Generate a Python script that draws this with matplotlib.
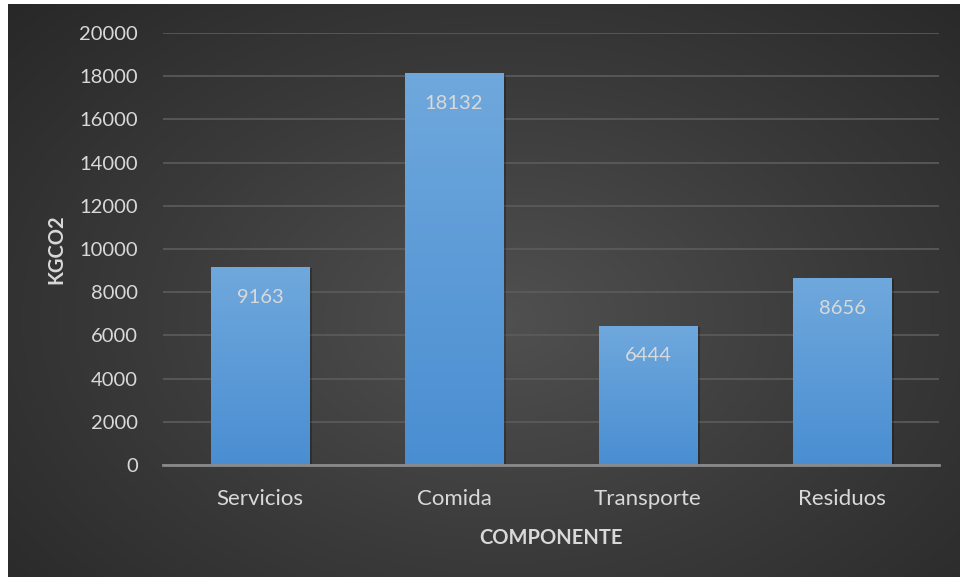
import numpy as np
import matplotlib.pyplot as plt
from matplotlib.colors import LinearSegmentedColormap

componentes = ["Servicios", "Comida", "Transporte", "Residuos"]
kgco2 = [9163, 18132, 6444, 8656]
yticks = [0, 2000, 4000, 6000, 8000, 10000, 12000, 14000, 16000, 18000, 20000]

plt.rcParams['font.family'] = ['Lato', 'DejaVu Sans']
txt = '#d9d9d9'

fig = plt.figure(figsize=(9.6, 5.77), dpi=100)
fig.patch.set_facecolor('white')

# fondo oscuro con degradado radial (deja un borde blanco arriba e izquierda)
bg = fig.add_axes([8/960, 0, 952/960, 573/577], zorder=0)
yy, xx = np.mgrid[0:1:300j, 0:1:500j]
r = np.sqrt(((xx - 0.52) / 0.75) ** 2 + ((yy - 0.55) / 0.85) ** 2)
bg_cmap = LinearSegmentedColormap.from_list('bg', ['#505050', '#3a3a3a', '#262626'])
bg.imshow(np.clip(r, 0, 1), cmap=bg_cmap, aspect='auto', extent=[0, 1, 0, 1],
          vmin=0, vmax=1)
bg.axis('off')

ax = fig.add_axes([163/960, 1 - 465/577, 776/960, 432/577], zorder=1)
ax.patch.set_alpha(0)
x = np.arange(len(componentes))
bars = ax.bar(x, kgco2, width=0.51, color='#5b9bd5', zorder=3)

# degradado vertical en cada barra + sombra suave
grad = np.linspace(0, 1, 256).reshape(-1, 1)
bar_cmap = LinearSegmentedColormap.from_list('bar', ['#4a8ed2', '#6fa8dc'])
for b in bars:
    x0, w, h = b.get_x(), b.get_width(), b.get_height()
    ax.bar(x0 + w / 2 + 0.012, h, width=w, bottom=-60, color='black',
           alpha=0.25, zorder=2)
    im = ax.imshow(grad, cmap=bar_cmap, aspect='auto', origin='lower',
                   extent=[x0, x0 + w, 0, h], zorder=3.5)
    im.set_clip_path(b)

for xi, v in zip(x, kgco2):
    ax.text(xi, v - 1000, str(v), ha='center', va='top', color=txt,
            fontsize=14.5, zorder=5)

ax.set_xlim(-0.5, 3.5)
ax.set_ylim(0, 20000)
ax.set_yticks(yticks)
ax.set_yticklabels([str(t) for t in yticks])
ax.set_xticks(x)
ax.set_xticklabels(componentes)
ax.tick_params(axis='y', length=0, pad=18, labelsize=14.5, labelcolor=txt)
ax.tick_params(axis='x', length=0, pad=17, labelsize=16, labelcolor=txt)
ax.grid(axis='y', color='#5c5c5c', linewidth=1.2, zorder=1)
for s in ['top', 'right', 'left']:
    ax.spines[s].set_visible(False)
ax.spines['bottom'].set_color('#8a8a8a')
ax.spines['bottom'].set_linewidth(2)
ax.spines['bottom'].set_zorder(6)

ax.set_xlabel('COMPONENTE', color=txt, fontsize=14.5, fontweight='bold', labelpad=14)
ax.set_ylabel('KGCO2', color=txt, fontsize=14.5, fontweight='bold')
ax.yaxis.set_label_coords(-(163 - 66) / 776, 0.5)

fig.savefig('out.png', dpi=100, facecolor=fig.get_facecolor())
